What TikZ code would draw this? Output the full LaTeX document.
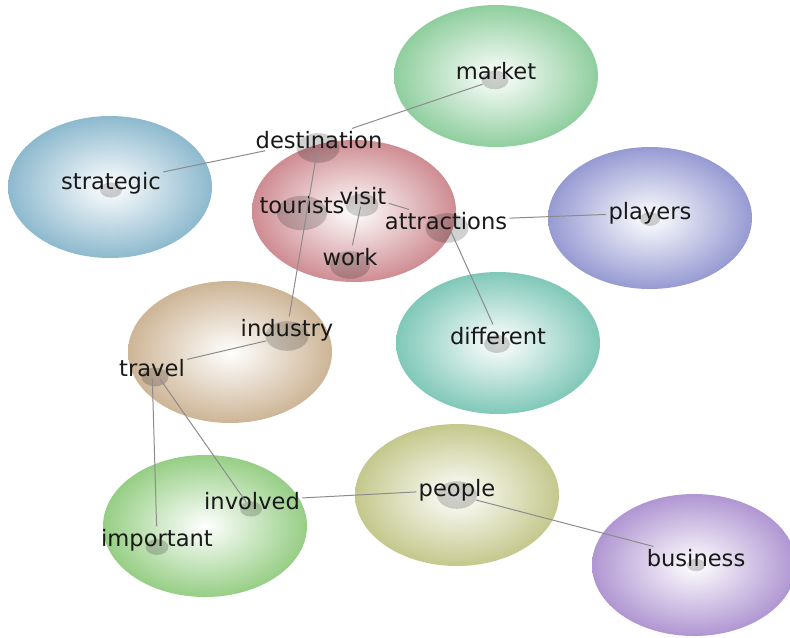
\documentclass[tikz,border=0pt]{standalone}
\usepackage{fontspec}
\setmainfont{DejaVu Sans}
\usetikzlibrary{shapes.geometric}

\definecolor{clmarket}{RGB}{143,206,158}
\definecolor{clstrategic}{RGB}{141,185,206}
\definecolor{cltourists}{RGB}{206,140,146}
\definecolor{clplayers}{RGB}{150,154,210}
\definecolor{cldifferent}{RGB}{128,200,184}
\definecolor{clindustry}{RGB}{205,181,150}
\definecolor{clpeople}{RGB}{196,200,140}
\definecolor{climportant}{RGB}{150,206,132}
\definecolor{clbusiness}{RGB}{176,150,210}

\begin{document}
\begin{tikzpicture}[
      x=0.5pt, y=-0.5pt,
      % shaded cluster discs
      bubble/.style={ellipse, inner sep=0pt, minimum width=102pt, minimum height=71pt,
                     shading=radial, inner color=white, outer color=#1},
      % grey spot under each term
      spot/.style={ellipse, inner sep=0pt, minimum width=#1, minimum height=#1/1.45,
                   fill=black, fill opacity=0.18},
      % term labels, baseline on the spot
      term/.style={anchor=base, inner sep=1pt, text=black!90, font=\fontsize{11.3}{13}\selectfont},
      % links between terms
      link/.style={draw=black!45, line width=0.5pt}]

      \useasboundingbox (0,0) rectangle (790,637);

      %clusters
      \node[bubble=clmarket](c-market) at (496,76){};
      \node[bubble=clstrategic](c-strategic) at (110,187){};
      \node[bubble=cltourists](c-tourists) at (354,211){};
      \node[bubble=clplayers](c-players) at (650,218){};
      \node[bubble=cldifferent](c-different) at (498,343){};
      \node[bubble=clindustry](c-industry) at (230,352){};
      \node[bubble=clpeople](c-people) at (457,495){};
      \node[bubble=climportant](c-important) at (205,526){};
      \node[bubble=clbusiness](c-business) at (694,565){};

      %spots
      \node[spot=13.5pt](s-market) at (495,80){};
      \node[spot=21.5pt](s-destination) at (318,148){};
      \node[spot=11pt](s-strategic) at (111,190){};
      \node[spot=25pt](s-tourists) at (302,213){};
      \node[spot=16.5pt](s-visit) at (362,205){};
      \node[spot=21.5pt](s-attractions) at (447,228){};
      \node[spot=20pt](s-work) at (350,265){};
      \node[spot=10pt](s-players) at (650,219){};
      \node[spot=13pt](s-different) at (497,344){};
      \node[spot=21.5pt](s-industry) at (287,336){};
      \node[spot=13.5pt](s-travel) at (155,377){};
      \node[spot=20pt](s-people) at (457,495){};
      \node[spot=9pt](s-business) at (696,565){};
      \node[spot=11pt](s-involved) at (251,509){};
      \node[spot=11.5pt](s-important) at (157,547){};

      %terms
      \node[term](market) at (496,79){market};
      \node[term](destination) at (319,148){destination};
      \node[term](strategic) at (111,189){strategic};
      \node[term](tourists) at (302,213){tourists};
      \node[term](visit) at (363,204){visit};
      \node[term](attractions) at (446,229){attractions};
      \node[term](work) at (350,265){work};
      \node[term](players) at (650,219){players};
      \node[term](different) at (498,344){different};
      \node[term](industry) at (287,336){industry};
      \node[term](travel) at (152,376){travel};
      \node[term](people) at (457,496){people};
      \node[term](business) at (696,566){business};
      \node[term](involved) at (252,509){involved};
      \node[term](important) at (157,546){important};

      %links
      \draw[link](strategic) -- (destination);
      \draw[link](destination) -- (s-market);
      \draw[link](destination) -- (industry);
      \draw[link](visit) -- (work);
      \draw[link](visit) -- (attractions);
      \draw[link](attractions) -- (players);
      \draw[link](attractions) -- (different);
      \draw[link](travel) -- (s-industry);
      \draw[link](travel) -- (important);
      \draw[link](travel) -- (s-involved);
      \draw[link](involved) -- (people);
      \draw[link](s-people) -- (business);
\end{tikzpicture}
\end{document}
